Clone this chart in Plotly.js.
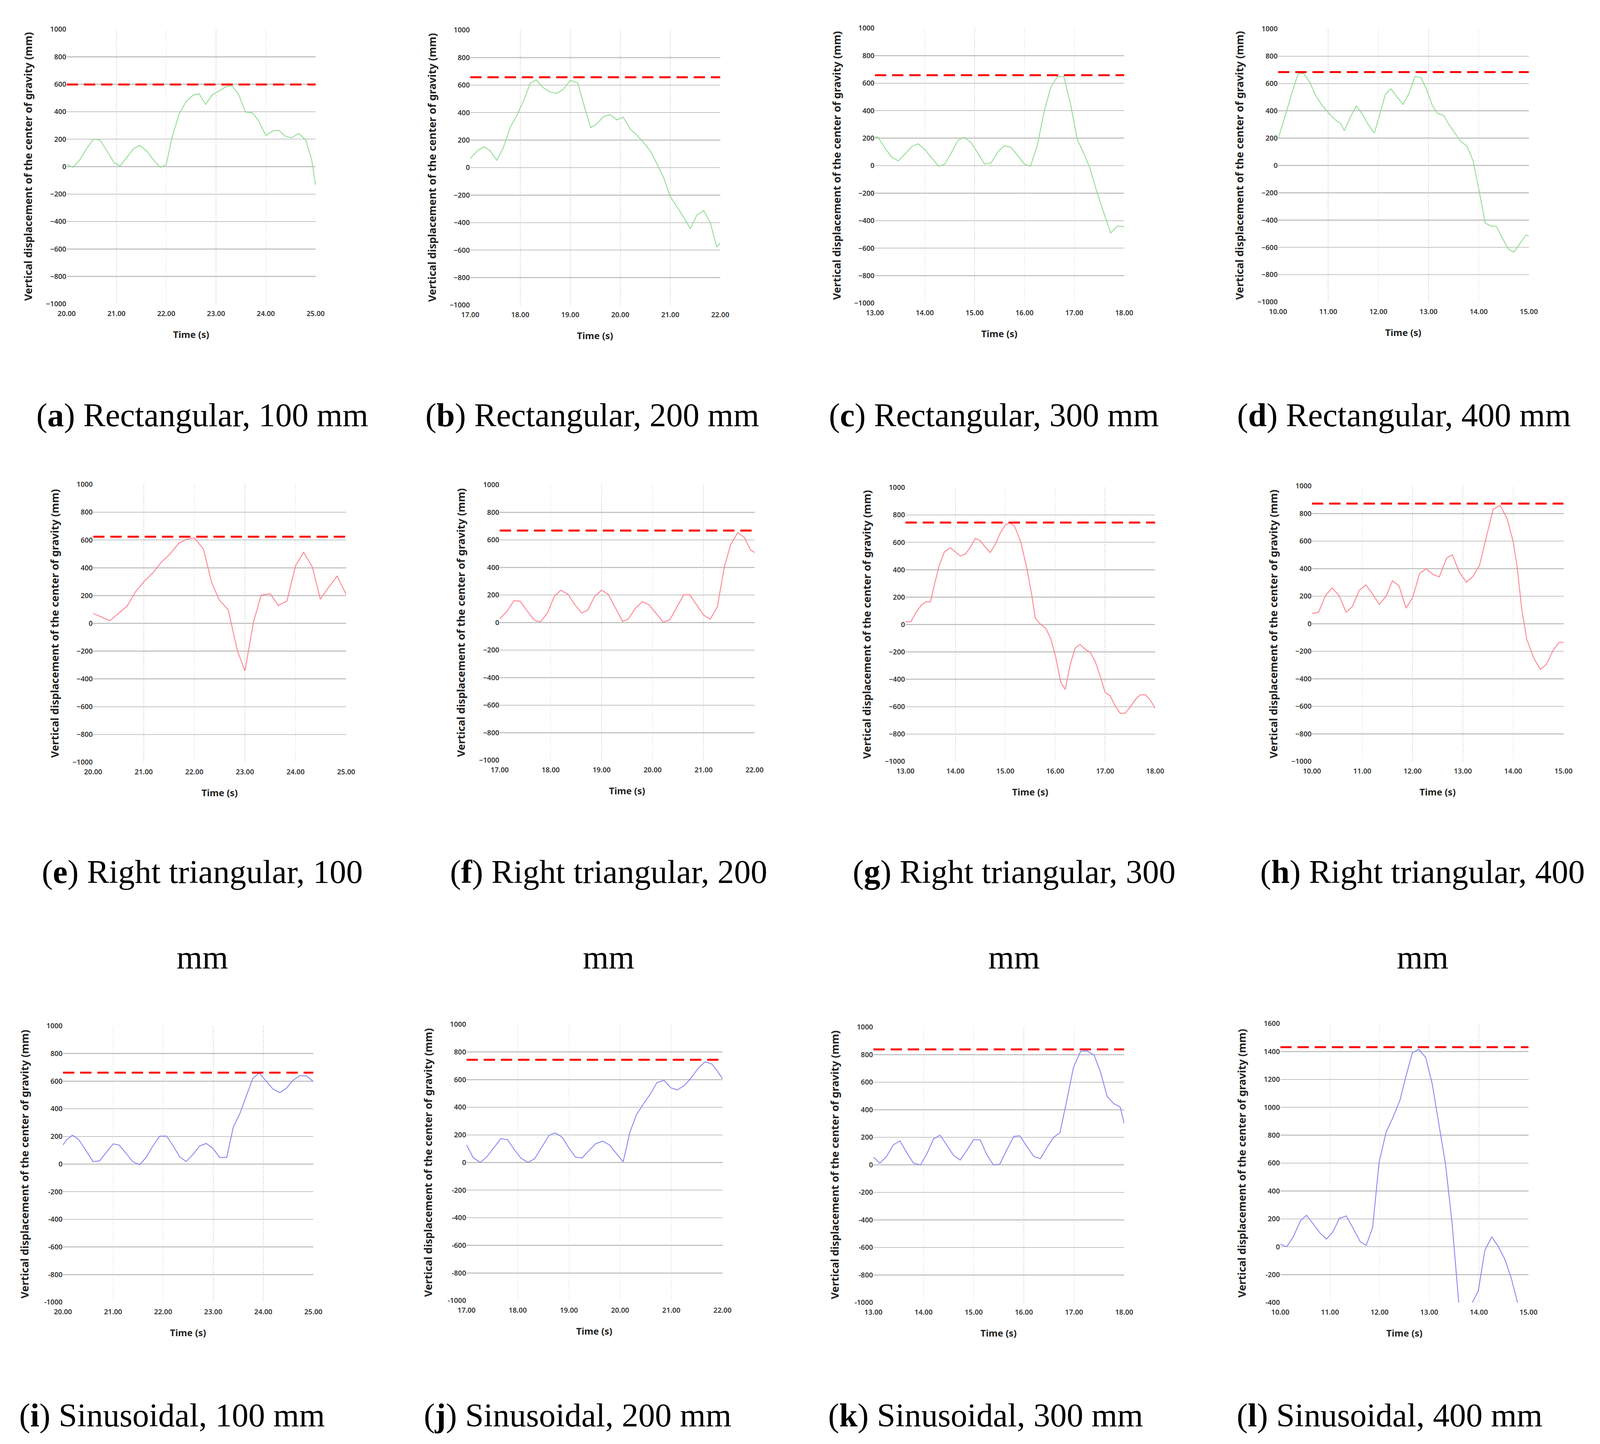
<!DOCTYPE html>
<html><head><meta charset="utf-8">
<script src="https://cdn.plot.ly/plotly-3.0.1.min.js"></script>
<style>html,body{margin:0;padding:0;background:#fff;overflow:hidden}</style>
</head><body><div id="chart"></div>
<script>
// ---------- data ----------
const aT=[20.00,20.13,20.27,20.41,20.54,20.67,20.81,20.95,21.07,21.21,21.35,21.47,21.61,21.75,21.88,22.00,22.12,22.26,22.40,22.54,22.66,22.79,22.92,23.06,23.20,23.32,23.46,23.59,23.73,23.86,24.00,24.14,24.26,24.40,24.52,24.66,24.80,24.92,25.00];
const aV=[15,-5,53,136,200,193,113,30,5,68,133,155,113,45,-5,15,219,385,475,521,531,453,521,551,581,592,521,397,392,332,226,261,264,219,211,241,196,53,-136];
const bT=[17.00,17.15,17.28,17.40,17.53,17.66,17.80,17.94,18.08,18.20,18.32,18.46,18.59,18.73,18.86,19.00,19.15,19.27,19.41,19.53,19.66,19.80,19.93,20.06,20.20,20.33,20.47,20.61,20.73,20.87,21.00,21.13,21.27,21.40,21.53,21.67,21.80,21.93,22.00];
const bV=[65,125,151,121,53,143,294,385,498,614,638,581,551,539,569,634,616,460,291,317,370,385,347,367,279,237,181,116,30,-75,-211,-284,-362,-445,-347,-312,-400,-578,-548];
const cT=[13.00,13.06,13.20,13.34,13.47,13.60,13.74,13.87,14.00,14.15,14.28,14.40,14.53,14.67,14.79,14.93,15.06,15.20,15.33,15.47,15.59,15.72,15.86,16.00,16.12,16.26,16.40,16.53,16.66,16.79,16.92,17.06,17.18,17.31,17.45,17.59,17.73,17.86,18.00];
const cV=[208,208,129,61,35,83,139,159,117,53,-5,11,91,186,205,167,95,12,20,102,144,136,76,11,-5,152,402,571,647,647,455,189,98,-15,-189,-341,-489,-439,-444];
const dT=[10.00,10.14,10.28,10.40,10.51,10.63,10.75,10.87,11.01,11.13,11.25,11.32,11.44,11.56,11.68,11.80,11.92,12.02,12.14,12.25,12.37,12.49,12.61,12.73,12.85,12.96,13.08,13.18,13.30,13.42,13.54,13.64,13.77,13.89,14.01,14.13,14.25,14.35,14.47,14.59,14.70,14.82,14.94,15.00];
const dV=[193,360,535,672,675,611,512,444,383,337,307,254,353,436,375,299,236,368,520,562,502,447,527,653,644,558,436,380,368,292,231,178,140,33,-187,-422,-445,-445,-529,-612,-635,-574,-511,-514];
const eT=[20.00,20.33,20.67,20.84,21.01,21.18,21.34,21.52,21.69,21.85,22.00,22.18,22.34,22.49,22.67,22.85,23.00,23.17,23.32,23.50,23.66,23.83,24.00,24.16,24.33,24.49,24.65,24.82,25.00];
const eV=[72,19,124,228,303,363,437,500,576,606,616,534,296,169,97,-197,-343,12,203,213,128,161,415,512,407,173,258,340,209];
const fT=[17.00,17.15,17.28,17.40,17.54,17.68,17.80,17.94,18.07,18.20,18.34,18.47,18.61,18.73,18.86,19.00,19.13,19.27,19.41,19.52,19.66,19.80,19.93,20.07,20.21,20.34,20.48,20.61,20.73,20.86,21.00,21.13,21.27,21.41,21.53,21.67,21.80,21.92,22.00];
const fV=[27,84,159,155,84,17,5,72,189,235,205,132,69,92,189,235,205,107,9,24,102,152,129,66,2,21,114,202,202,132,54,24,114,408,565,653,618,528,508];
const gT=[13.00,13.11,13.22,13.33,13.42,13.50,13.58,13.68,13.78,13.90,14.00,14.10,14.20,14.30,14.40,14.50,14.60,14.70,14.80,14.90,15.00,15.09,15.19,15.31,15.43,15.53,15.60,15.70,15.81,15.91,16.01,16.11,16.20,16.30,16.40,16.50,16.60,16.70,16.80,16.90,17.00,17.10,17.20,17.30,17.40,17.50,17.60,17.70,17.80,17.90,18.00];
const gV=[18,21,94,147,167,165,291,435,530,561,530,500,515,564,629,612,564,526,586,670,727,745,715,602,412,215,48,3,-27,-103,-239,-421,-474,-292,-171,-145,-182,-202,-270,-376,-497,-520,-595,-648,-648,-603,-550,-515,-512,-550,-611];
const hT=[10.00,10.13,10.27,10.40,10.54,10.68,10.80,10.94,11.07,11.20,11.34,11.48,11.60,11.73,11.87,12.00,12.14,12.27,12.40,12.53,12.68,12.79,12.93,13.07,13.20,13.33,13.46,13.60,13.74,13.88,14.00,14.08,14.17,14.27,14.41,14.54,14.66,14.80,14.92,15.00];
const hV=[75,83,204,261,204,83,124,242,282,219,140,204,312,276,113,189,365,400,359,340,478,501,374,302,343,423,619,830,860,762,596,408,106,-113,-249,-332,-294,-189,-133,-136];
const iT=[20.00,20.08,20.19,20.31,20.46,20.60,20.73,20.87,21.00,21.12,21.26,21.39,21.53,21.66,21.79,21.93,22.07,22.19,22.33,22.46,22.60,22.73,22.86,22.99,23.13,23.27,23.40,23.53,23.66,23.79,23.92,24.05,24.19,24.33,24.46,24.59,24.72,24.86,25.00];
const iV=[138,179,209,179,98,18,23,86,146,138,78,18,-5,48,128,202,203,138,53,18,71,131,149,116,48,48,266,364,492,620,660,605,544,517,549,605,639,639,597];
const jT=[17.00,17.13,17.27,17.39,17.53,17.67,17.80,17.94,18.06,18.20,18.33,18.48,18.61,18.73,18.87,19.00,19.13,19.26,19.40,19.52,19.66,19.79,19.92,20.06,20.19,20.32,20.45,20.59,20.72,20.86,20.99,21.12,21.26,21.39,21.53,21.66,21.79,21.90,22.00];
const jV=[128,35,0,38,105,173,165,90,33,0,27,117,195,215,183,105,38,33,90,135,155,128,68,5,218,346,421,496,579,594,541,526,559,614,684,729,714,662,606];
const kT=[13.00,13.13,13.26,13.40,13.53,13.66,13.80,13.94,14.07,14.20,14.33,14.46,14.60,14.73,14.86,15.00,15.13,15.26,15.39,15.52,15.66,15.80,15.92,16.06,16.20,16.33,16.46,16.59,16.72,16.86,16.99,17.13,17.26,17.40,17.53,17.66,17.79,17.92,18.00];
const kV=[56,12,60,146,174,91,12,0,83,189,216,143,68,35,103,184,181,75,0,5,109,207,211,133,60,45,125,199,234,475,709,823,827,797,672,498,445,420,302];
const lT=[10.00,10.13,10.26,10.41,10.53,10.66,10.80,10.93,11.06,11.19,11.33,11.46,11.61,11.73,11.86,11.99,12.13,12.26,12.41,12.53,12.66,12.79,12.93,13.06,13.19,13.33,13.46,13.60,13.73,13.86,13.99,14.12,14.26,14.39,14.52,14.65,14.78,14.90,15.00];
const lV=[18,0,70,189,226,166,99,55,107,203,221,137,37,10,137,604,820,919,1050,1220,1391,1416,1357,1169,886,589,174,-420,-560,-405,-316,-27,70,3,-86,-220,-400,-560,-700];

const thresholds=[598,657,658,684,624,668,745,872,662,744,838,1431];
const startTimes=[20,17,13,10,20,17,13,10,20,17,13,10];
const yRanges=[[-1000,1000],[-1000,1000],[-1000,1000],[-1000,1000],[-1000,1000],[-1000,1000],[-1000,1000],[-1000,1000],[-1000,1000],[-1000,1000],[-1000,1000],[-400,1600]];
const letters=['a','b','c','d','e','f','g','h','i','j','k','l'];
const shapesTxt=['Rectangular','Rectangular','Rectangular','Rectangular','Right triangular','Right triangular','Right triangular','Right triangular','Sinusoidal','Sinusoidal','Sinusoidal','Sinusoidal'];
const heights=['100','200','300','400','100','200','300','400','100','200','300','400'];
const yTitle='Vertical displacement of the center of gravity (mm)';
const xTitle='Time (s)';
const series=[[aT,aV],[bT,bV],[cT,cV],[dT,dV],[eT,eV],[fT,fV],[gT,gV],[hT,hV],[iT,iV],[jT,jV],[kT,kV],[lT,lV]];

// ---------- layout (reference pixels, 4294 x 3696) ----------
const W=4294,H=3696;
// the page is fitted to the real viewport (which may be narrower than 4294)
const VW=Math.min(window.innerWidth||W,W), VH=Math.min(window.innerHeight||H,H);
const sx=VW/W, sy=VH/H;
document.getElementById('chart').style.width=VW+'px';
document.getElementById('chart').style.height=VH+'px';
const boxes=[[179,847,75,778],[1262,1933,77,781],[2348,3017,72,776],[3430,4103,74,773],
             [250,929,1240,1951],[1341,2025,1241,1946],[2430,3100,1248,1949],[3521,4196,1244,1949],
             [169,841,2626,3333],[1252,1939,2622,3329],[2344,3017,2629,3334],[3436,4102,2620,3334]];
const captionX=[543,1590,2667,3768,543,1633,2722,3818,462,1550,2645,3729];
const lineColors=['#8fdc8f','#8fdc8f','#8fdc8f','#8fdc8f','#ff7f8c','#ff7f8c','#ff7f8c','#ff7f8c','#8585f2','#8585f2','#8585f2','#8585f2'];
const hyphenMinus=[false,false,false,false,false,false,false,false,true,true,true,true];

const traces=[],annotations=[];
const layout={width:VW,height:VH,margin:{l:0,r:0,t:0,b:0},paper_bgcolor:'#fff',plot_bgcolor:'#fff',showlegend:false,annotations:annotations};
const tickFont={family:'Noto Sans, Open Sans, sans-serif',size:19*sx,color:'#333',weight:600};
const px=x=>x/W, py=y=>1-y/H;

for(let k=0;k<12;k++){
  const n=k===0?'':String(k+1);
  const [L,R,T,B]=boxes[k];
  const x0=startTimes[k], x1=startTimes[k]+5;
  const [t,v]=series[k];
  traces.push({x:t,y:v,xaxis:'x'+n,yaxis:'y'+n,mode:'lines',line:{color:lineColors[k],width:2.2},hoverinfo:'skip'});
  traces.push({x:[x0,x1],y:[thresholds[k],thresholds[k]],xaxis:'x'+n,yaxis:'y'+n,mode:'lines',
    line:{color:'#ff0000',width:5,dash:Math.round(30*sx)+'px,'+Math.round(16*sx)+'px'},hoverinfo:'skip'});
  const yr=yRanges[k];
  const tv=[];for(let q=yr[0];q<=yr[1];q+=200)tv.push(q);
  layout['xaxis'+n]={domain:[px(L),px(R)],anchor:'y'+n,range:[x0,x1],tickmode:'linear',tick0:x0,dtick:1,tickformat:'.2f',
    showgrid:true,gridcolor:'#d4d4d4',griddash:'dot',gridwidth:1.5,zeroline:false,showline:false,ticks:'',tickfont:tickFont,ticklabelstandoff:12*sy,fixedrange:true};
  const ya={domain:[py(B),py(T)],anchor:'x'+n,range:yr,tickmode:'array',tickvals:tv,
    showgrid:true,gridcolor:'#c4c4c4',gridwidth:2.5,zeroline:false,showline:false,ticks:'',tickfont:tickFont,ticklabelstandoff:18*sx,fixedrange:true};
  if(hyphenMinus[k]) ya.ticktext=tv.map(String);
  layout['yaxis'+n]=ya;
  annotations.push({xref:'paper',yref:'paper',x:px(L-104),y:py((T+B)/2),text:'<b>'+yTitle+'</b>',textangle:-90,showarrow:false,xanchor:'center',yanchor:'middle',
    font:{family:'Noto Sans, Open Sans, sans-serif',size:27*sy,color:'#222'}});
  annotations.push({xref:'paper',yref:'paper',x:px((L+R)/2),y:py(B+78),text:'<b>'+xTitle+'</b>',showarrow:false,xanchor:'center',yanchor:'middle',
    font:{family:'Noto Sans, Open Sans, sans-serif',size:25*sx,color:'#222'}});
  const capFont={family:'Liberation Serif, Times New Roman, serif',size:89*sx,color:'#000'};
  const row=Math.floor(k/4);
  if(row===1){
    annotations.push({xref:'paper',yref:'paper',x:px(captionX[k]),y:py(2231),text:'(<b>'+letters[k]+'</b>) '+shapesTxt[k]+', '+heights[k],showarrow:false,xanchor:'center',yanchor:'middle',font:capFont});
    annotations.push({xref:'paper',yref:'paper',x:px(captionX[k]),y:py(2450),text:'mm',showarrow:false,xanchor:'center',yanchor:'middle',font:capFont});
  } else {
    const cy=row===0?1062:3622;
    annotations.push({xref:'paper',yref:'paper',x:px(captionX[k]),y:py(cy),text:'(<b>'+letters[k]+'</b>) '+shapesTxt[k]+', '+heights[k]+' mm',showarrow:false,xanchor:'center',yanchor:'middle',font:capFont});
  }
}
Plotly.newPlot('chart',traces,layout,{staticPlot:true,displayModeBar:false});
</script></body></html>
